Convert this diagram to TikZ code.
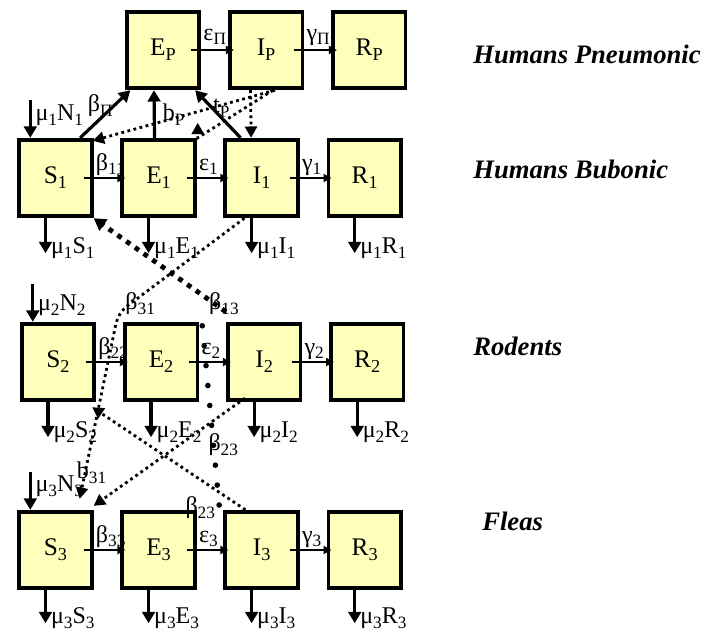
\documentclass[tikz,border=0pt]{standalone}
\usepackage{fontspec}
\setmainfont{Liberation Serif}
\usetikzlibrary{arrows.meta,positioning,calc}

\definecolor{boxfill}{RGB}{255,255,188}
\newcommand{\lo}[1]{\raisebox{-0.2em}{\scalebox{0.72}{#1}}}

\begin{document}
\begin{tikzpicture}[
    x=0.75pt, y=-0.75pt,
    node distance=20pt,
    compartment/.style={rectangle, draw, line width=2.8pt, fill=boxfill, minimum width=54.5pt, minimum height=57.5pt, inner sep=0pt, font=\fontsize{19}{22}\selectfont},
    flow/.style={-{Triangle[length=6pt,width=6pt]}, line width=1.6pt},
    death/.style={-{Triangle[length=8.5pt,width=9.5pt]}, line width=2.4pt},
    dotarrow/.style={-{Triangle[length=8.5pt,width=9pt]}, line width=2.1pt, dash pattern=on 2.1pt off 2.6pt},
    crossdash/.style={-{Triangle[length=9pt,width=10pt]}, line width=3.6pt, dash pattern=on 3.6pt off 4.4pt},
    bigdots/.style={line width=4.2pt, line cap=round, dash pattern=on 0pt off 15pt},
    rate/.style={inner sep=0pt, anchor=base west, font=\fontsize{18}{20}\selectfont},
    mort/.style={inner sep=0pt, anchor=base west, xshift=3pt, yshift=-0.5pt, font=\fontsize{18}{20}\selectfont},
    group/.style={inner sep=0pt, anchor=base west, font=\fontsize{20}{24}\selectfont\bfseries\itshape}
]
    \path[use as bounding box] (0,0) rectangle (718,636);

    % Humans pneumonic
    \node[compartment] (EP) at (163,50) {E\lo{P}};
    \node[compartment, right=of EP] (IP) {I\lo{P}};
    \node[compartment, right=of IP] (RP) {R\lo{P}};

    % Humans bubonic
    \node[compartment] (S1) at (55.5,178) {S\lo{1}};
    \node[compartment, right=of S1] (E1) {E\lo{1}};
    \node[compartment, right=of E1] (I1) {I\lo{1}};
    \node[compartment, right=of I1] (R1) {R\lo{1}};

    % Rodents
    \node[compartment] (S2) at (58,362) {S\lo{2}};
    \node[compartment, right=of S2] (E2) {E\lo{2}};
    \node[compartment, right=of E2] (I2) {I\lo{2}};
    \node[compartment, right=of I2] (R2) {R\lo{2}};

    % Fleas
    \node[compartment] (S3) at (55.5,550) {S\lo{3}};
    \node[compartment, right=of S3] (E3) {E\lo{3}};
    \node[compartment, right=of E3] (I3) {I\lo{3}};
    \node[compartment, right=of I3] (R3) {R\lo{3}};

    % Rates along each row
    \node[rate] (lEP) at ($(EP.east)+(2,-10)$) {ε\lo{Π}};
    \node[rate] (lIP) at ($(IP.east)+(2,-10)$) {γ\lo{Π}};
    \node[rate] (lS1) at ($(S1.east)+(2,-8)$) {β\lo{11}};
    \node[rate] (lE1) at ($(E1.east)+(2,-8)$) {ε\lo{1}};
    \node[rate] (lI1) at ($(I1.east)+(2,-8)$) {γ\lo{1}};
    \node[rate] (lS2) at ($(S2.east)+(2,-8)$) {β\lo{22}};
    \node[rate] (lE2) at ($(E2.east)+(2,-8)$) {ε\lo{2}};
    \node[rate] (lI2) at ($(I2.east)+(2,-8)$) {γ\lo{2}};
    \node[rate] (lS3) at ($(S3.east)+(2,-8)$) {β\lo{33}};
    \node[rate] (lE3) at ($(E3.east)+(2,-8)$) {ε\lo{3}};
    \node[rate] (lI3) at ($(I3.east)+(2,-8)$) {γ\lo{3}};

    % Transitions
    \draw[flow] ($(EP.east)+(-10,0)$) -- ($(IP.west)+(6,0)$);
    \draw[flow] ($(IP.east)+(-10,0)$) -- ($(RP.west)+(6,0)$);
    \draw[flow] ($(S1.east)+(-10,0)$) -- ($(E1.west)+(5,0)$);
    \draw[flow] ($(E1.east)+(-10,0)$) -- ($(I1.west)+(5,0)$);
    \draw[flow] ($(I1.east)+(-10,0)$) -- ($(R1.west)+(5,0)$);
    \draw[flow] ($(S2.east)+(-10,0)$) -- ($(E2.west)+(5,0)$);
    \draw[flow] ($(E2.east)+(-10,0)$) -- ($(I2.west)+(5,0)$);
    \draw[flow] ($(I2.east)+(-10,0)$) -- ($(R2.west)+(5,0)$);
    \draw[flow] ($(S3.east)+(-10,0)$) -- ($(E3.west)+(5,0)$);
    \draw[flow] ($(E3.east)+(-10,0)$) -- ($(I3.west)+(5,0)$);
    \draw[flow] ($(I3.east)+(-10,0)$) -- ($(R3.west)+(5,0)$);

    % Births
    \coordinate (nS1) at ($(S1.north west)+(13,-38)$);
    \coordinate (nS2) at ($(S2.north west)+(13,-38)$);
    \coordinate (nS3) at ($(S3.north west)+(13,-38)$);
    \draw[death] (nS1) -- (nS1 |- S1.north);
    \draw[death] (nS2) -- (nS2 |- S2.north);
    \draw[death] (nS3) -- (nS3 |- S3.north);
    \node[rate] (bS1) at ($(nS1)+(5,21)$) {μ\lo{1}N\lo{1}};
    \node[rate] (bS2) at ($(nS2)+(5,27)$) {μ\lo{2}N\lo{2}};
    \node[rate] (bS3) at ($(nS3)+(5,20)$) {μ\lo{3}N\lo{3}};

    % Deaths
    \draw[death] ($(S1.south)+(-10,0)$) -- ++(0,35) coordinate (dS1) node[mort] (mS1) {μ\lo{1}S\lo{1}};
    \draw[death] ($(E1.south)+(-10,0)$) -- ++(0,35) coordinate (dE1) node[mort] (mE1) {μ\lo{1}E\lo{1}};
    \draw[death] ($(I1.south)+(-10,0)$) -- ++(0,35) coordinate (dI1) node[mort] (mI1) {μ\lo{1}I\lo{1}};
    \draw[death] ($(R1.south)+(-10,0)$) -- ++(0,35) coordinate (dR1) node[mort] (mR1) {μ\lo{1}R\lo{1}};
    \draw[death] ($(S2.south)+(-10,0)$) -- ++(0,35) coordinate (dS2) node[mort] (mS2) {μ\lo{2}S\lo{2}};
    \draw[death] ($(E2.south)+(-10,0)$) -- ++(0,35) coordinate (dE2) node[mort] (mE2) {μ\lo{2}E\lo{2}};
    \draw[death] ($(I2.south)+(-10,0)$) -- ++(0,35) coordinate (dI2) node[mort] (mI2) {μ\lo{2}I\lo{2}};
    \draw[death] ($(R2.south)+(-10,0)$) -- ++(0,35) coordinate (dR2) node[mort] (mR2) {μ\lo{2}R\lo{2}};
    \draw[death] ($(S3.south)+(-10,0)$) -- ++(0,33) coordinate (dS3) node[mort] (mS3) {μ\lo{3}S\lo{3}};
    \draw[death] ($(E3.south)+(-10,0)$) -- ++(0,33) coordinate (dE3) node[mort] (mE3) {μ\lo{3}E\lo{3}};
    \draw[death] ($(I3.south)+(-10,0)$) -- ++(0,33) coordinate (dI3) node[mort] (mI3) {μ\lo{3}I\lo{3}};
    \draw[death] ($(R3.south)+(-10,0)$) -- ++(0,33) coordinate (dR3) node[mort] (mR3) {μ\lo{3}R\lo{3}};

    % Into the pneumonic class
    \draw[death] ($(S1.north east)+(-13.5,0)$) -- ($(EP.south west)+(5.5,0)$);
    \draw[death] ($(E1.north)+(-4,0)$) -- ($(EP.south)+(-9,0)$);
    \draw[death] ($(I1.north)+(-21,0)$) -- ($(EP.south east)+(-6,0)$);
    \node[rate] (lbP) at ($(S1.north east)+(-6,-26)$) {β\lo{Π}};
    \node[rate] (lb) at ($(E1.north)+(4,-17)$) {b\lo{P}};
    \node[rate] (lt) at ($(I1.north west)+(-10.5,-25)$) {t\lo{P}};

    % Pneumonic infection
    \draw[dotarrow] ($(IP.south)+(-15.5,0)$) -- ($(I1.north)+(-10.5,0)$);
    \draw[dotarrow] ($(IP.south)+(9,0)$) -- ($(S1.north east)+(-1,3)$);
    \draw[dotarrow] ($(IP.south)+(7,0)$) -- ($(E1.north east)+(1,0)$) -- ($(E1.north east)+(1,-15)$);

    % Cross infection between hosts and fleas
    \coordinate (k31) at ($(S2.north east)+(22,-9)$);
    \draw[crossdash] ($(I2.north west)+(0,-10)$) -- (S1.south east);
    \draw[dotarrow, rounded corners=8pt] ($(I1.south west)+(21,0)$) -- (k31) -- ($(S3.north east)+(-14,-11)$);
    \draw[dotarrow] ($(I2.south west)+(19,-4)$) -- ($(S3.north east)+(0,-4)$);
    \draw[dotarrow] ($(I3.north west)+(22,0)$) -- ($(S2.south east)+(-4,5)$);
    \draw[bigdots] ($(E2.north east)+(3,4)$) -- ($(I3.north west)+(-3,9)$);
    \node[rate] (l13) at ($(I2.north west)+(-17,-12)$) {β\lo{13}};
    \node[rate] (l31) at ($(S2.north east)+(29,-12)$) {β\lo{31}};
    \node[rate] (lb31) at ($(S3.north east)+(-17,-31)$) {b\lo{31}};
    \node[rate] (l23a) at ($(E2.south east)+(9,48)$) {β\lo{23}};
    \node[rate] (l23b) at ($(E3.north east)+(-11.5,4)$) {β\lo{23}};

    % Host groups
    \node[group] (gP) at (473,63) {Humans Pneumonic};
    \node[group] (g1) at (473,178) {Humans Bubonic};
    \node[group] (g2) at (473,355) {Rodents};
    \node[group] (g3) at (482,530) {Fleas};
\end{tikzpicture}
\end{document}
